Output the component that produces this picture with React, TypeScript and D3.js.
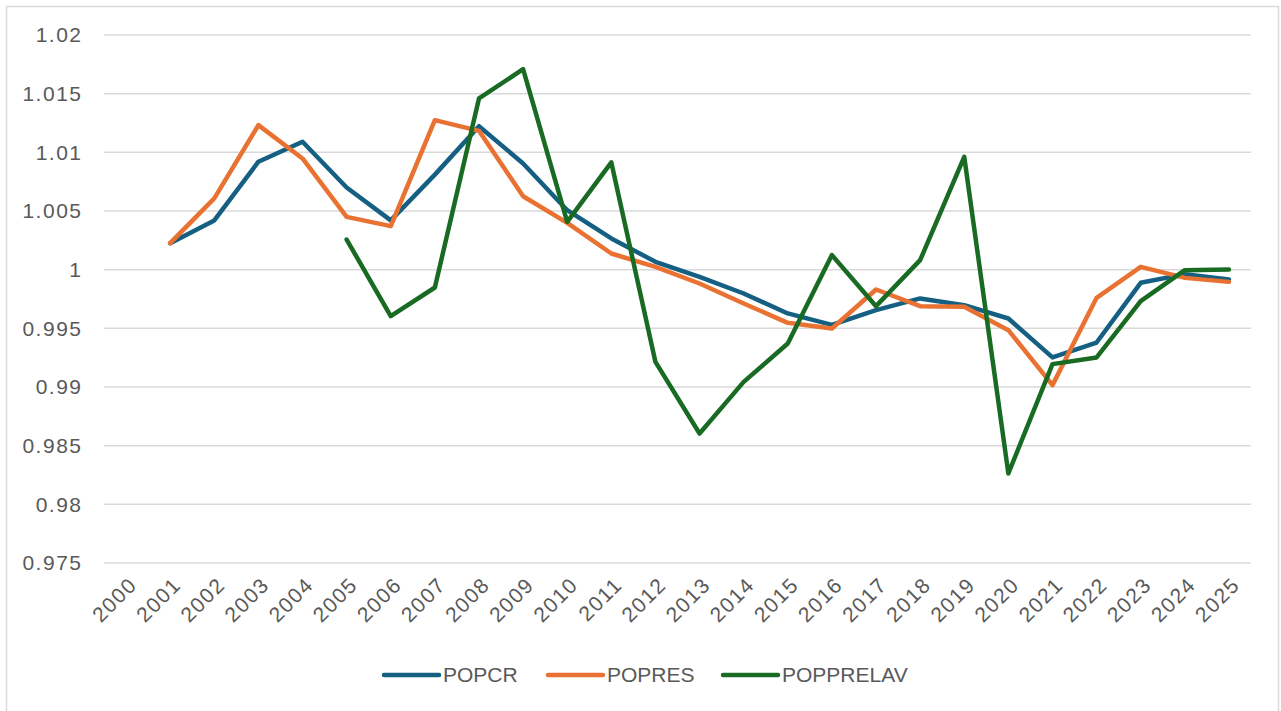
import React, { useEffect, useRef } from 'react'
import * as d3 from 'd3'

const years = d3.range(2000, 2026).map(String)

// null = no value for that year
const popcr = [null, 1.00226, 1.0042, 1.0092, 1.0109, 1.007, 1.0042, 1.0081, 1.01223, 1.00905, 1.00507, 1.00266, 1.00067, 0.99939, 0.99797, 0.99627, 0.9953, 0.99655, 0.99755, 0.99697, 0.99584, 0.99252, 0.99379, 0.99888, 0.99962, 0.99916]
const popres = [null, 1.00226, 1.00607, 1.01232, 1.00948, 1.0045, 1.00371, 1.01274, 1.01183, 1.00626, 1.00399, 1.00138, 1.00024, 0.99882, 0.99712, 0.99547, 0.99499, 0.99831, 0.99689, 0.99683, 0.99484, 0.99016, 0.9976, 1.00024, 0.9993, 0.99896]
const popprelav = [null, null, null, null, null, 1.00257, 0.99604, 0.99848, 1.01459, 1.01709, 1.00408, 1.00914, 0.99214, 0.98604, 0.99044, 0.99371, 1.00124, 0.99689, 1.00081, 1.00961, 0.98263, 0.99195, 0.99252, 0.99732, 0.99996, 1.00002]

const yTicks = [0.975, 0.98, 0.985, 0.99, 0.995, 1, 1.005, 1.01, 1.015, 1.02]

const seriesList = [
  { name: 'POPCR', values: popcr, color: '#156082' },
  { name: 'POPRES', values: popres, color: '#E97132' },
  { name: 'POPPRELAV', values: popprelav, color: '#196B24' }
]

const W = 1281
const H = 711
const FONT = '"Liberation Sans", Arial, sans-serif'
const TEXT = '#595959'

export default function App () {
  const ref = useRef<SVGSVGElement>(null)

  useEffect(() => {
    const svg = d3.select(ref.current)
    svg.selectAll('*').remove()

    const left = 104
    const right = 1251
    const top = 35
    const bottom = 563

    const x = d3.scalePoint<string>().domain(years).range([left, right]).padding(0.5)
    const y = d3.scaleLinear().domain([0.975, 1.02]).range([bottom, top])

    // chart border
    svg.append('rect')
      .attr('x', 6.5).attr('y', 6.5)
      .attr('width', 1272).attr('height', 720)
      .attr('fill', 'white')
      .attr('stroke', '#d9d9d9')
      .attr('stroke-width', 1.5)

    // gridlines
    svg.append('g')
      .selectAll('line')
      .data(yTicks)
      .join('line')
      .attr('x1', left).attr('x2', right)
      .attr('y1', d => y(d)).attr('y2', d => y(d))
      .attr('stroke', '#d9d9d9')
      .attr('stroke-width', 1.5)

    // y labels (digits a bit wider than Arial in the original font)
    svg.append('g')
      .selectAll('text')
      .data(yTicks)
      .join('text')
      .attr('x', 82.5)
      .attr('y', d => y(d))
      .attr('dy', '0.35em')
      .attr('text-anchor', 'end')
      .attr('font-family', FONT)
      .attr('font-size', 21)
      .attr('letter-spacing', 1.5)
      .attr('fill', TEXT)
      .text(d => String(d))

    // x labels, rotated
    svg.append('g')
      .selectAll('text')
      .data(years)
      .join('text')
      .attr('transform', d => `translate(${(x(d) as number) + 7},${bottom + 18}) rotate(-45)`)
      .attr('text-anchor', 'end')
      .attr('dy', '0.35em')
      .attr('font-family', FONT)
      .attr('font-size', 21)
      .attr('letter-spacing', 1.5)
      .attr('fill', TEXT)
      .text(d => d)

    // lines
    const line = d3.line<number | null>()
      .defined(d => d !== null)
      .x((d, i) => x(years[i]) as number)
      .y(d => y(d as number))

    seriesList.forEach(s => {
      svg.append('path')
        .datum(s.values)
        .attr('d', line)
        .attr('fill', 'none')
        .attr('stroke', s.color)
        .attr('stroke-width', 4.5)
        .attr('stroke-linejoin', 'round')
        .attr('stroke-linecap', 'round')
    })

    // legend
    const legendX = [384, 548, 723]
    const legend = svg.append('g')
    seriesList.forEach((s, i) => {
      const g = legend.append('g').attr('transform', `translate(${legendX[i]},675)`)
      g.append('line')
        .attr('x1', 0).attr('x2', 55)
        .attr('stroke', s.color)
        .attr('stroke-width', 4.5)
        .attr('stroke-linecap', 'round')
      g.append('text')
        .attr('x', 59)
        .attr('dy', '0.35em')
        .attr('font-family', FONT)
        .attr('font-size', 21)
        .attr('fill', TEXT)
        .text(s.name)
    })
  }, [])

  return (
    <svg ref={ref} width={W} height={H} style={{ position: 'absolute', left: 0, top: 0, background: 'white' }} />
  )
}
